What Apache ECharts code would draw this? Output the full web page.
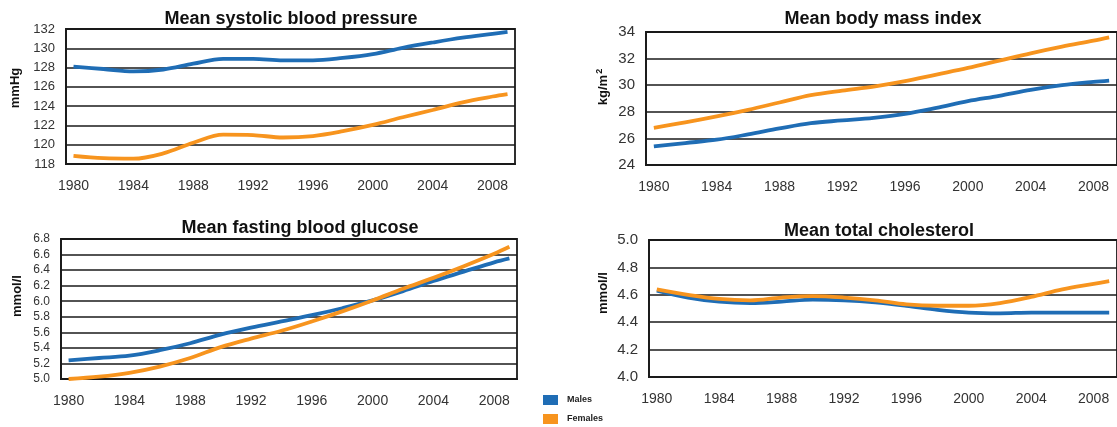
<!DOCTYPE html>
<html>
<head>
<meta charset="utf-8">
<script src="https://cdn.jsdelivr.net/npm/echarts@6/dist/echarts.min.js"></script>
<style>
  html, body { margin: 0; padding: 0; background: #fff; }
  #chart { width: 1117px; height: 427px; }
</style>
</head>
<body>
<div id="chart"></div>
<script>
// Sample years shared by every panel
const years = [1980, 1982, 1984, 1986, 1988, 1990, 1992, 1994, 1996, 1998, 2000, 2002, 2004, 2006, 2008, 2009];
const yearTicks = [1980, 1984, 1988, 1992, 1996, 2000, 2004, 2008];

// Mean systolic blood pressure (mmHg)
const sbpMales   = [128.1, 127.85, 127.6, 127.8, 128.4, 128.9, 128.9, 128.75, 128.75, 129.0, 129.4, 130.05, 130.6, 131.1, 131.5, 131.7];
const sbpFemales = [118.85, 118.6, 118.55, 119.1, 120.2, 121.05, 121.0, 120.75, 120.9, 121.4, 122.05, 122.85, 123.6, 124.4, 125.0, 125.25];

// Mean body mass index (kg/m2)
const bmiMales   = [25.4, 25.65, 25.9, 26.3, 26.75, 27.15, 27.35, 27.55, 27.85, 28.3, 28.8, 29.2, 29.65, 30.0, 30.25, 30.35];
const bmiFemales = [26.8, 27.2, 27.65, 28.15, 28.7, 29.25, 29.6, 29.9, 30.3, 30.8, 31.3, 31.85, 32.4, 32.9, 33.35, 33.6];

// Mean fasting blood glucose (mmol/l)
const fbgMales   = [5.24, 5.27, 5.30, 5.37, 5.46, 5.57, 5.66, 5.74, 5.82, 5.91, 6.01, 6.13, 6.26, 6.38, 6.50, 6.55];
const fbgFemales = [5.00, 5.03, 5.08, 5.16, 5.27, 5.41, 5.52, 5.62, 5.74, 5.87, 6.01, 6.16, 6.30, 6.45, 6.61, 6.70];

// Mean total cholesterol (mmol/l)
const cholMales   = [4.63, 4.58, 4.55, 4.54, 4.55, 4.565, 4.56, 4.545, 4.52, 4.49, 4.47, 4.465, 4.47, 4.47, 4.47, 4.47];
const cholFemales = [4.64, 4.60, 4.57, 4.56, 4.58, 4.59, 4.58, 4.56, 4.53, 4.52, 4.52, 4.54, 4.585, 4.64, 4.68, 4.70];

const titles = ['Mean systolic blood pressure', 'Mean body mass index', 'Mean fasting blood glucose', 'Mean total cholesterol'];
const seriesNames = ['Males', 'Females'];

const BLUE = '#1f6db5';
const ORANGE = '#f7941e';
const INK = '#1a1a1a';
const FONT = '"Liberation Sans", Arial, Helvetica, sans-serif';

const panels = [
  { grid: { left: 66, top: 29, width: 449, height: 135 }, y: { min: 118, max: 132, interval: 2, size: 13, dec: 0 },
    data: [sbpMales, sbpFemales], title: { x: 291, y: 10 } },
  { grid: { left: 646, top: 32, width: 473, height: 133 }, y: { min: 24, max: 34, interval: 2, size: 15, dec: 0 },
    data: [bmiMales, bmiFemales], title: { x: 883, y: 10 } },
  { grid: { left: 61, top: 239, width: 456, height: 140 }, y: { min: 5.0, max: 6.8, interval: 0.2, size: 12, dec: 1 },
    data: [fbgMales, fbgFemales], title: { x: 300, y: 219 } },
  { grid: { left: 649, top: 240, width: 473, height: 137 }, y: { min: 4.0, max: 5.0, interval: 0.2, size: 15, dec: 1 },
    data: [cholMales, cholFemales], title: { x: 879, y: 222 } }
];

const pairs = arr => years.map((yr, i) => [yr, arr[i]]);

const option = {
  animation: false,
  backgroundColor: '#fff',
  textStyle: { fontFamily: FONT },
  title: panels.map((p, i) => ({
    text: titles[i],
    left: p.title.x,
    top: p.title.y,
    textAlign: 'center',
    padding: 0,
    textStyle: { fontFamily: FONT, fontSize: 18, fontWeight: 'bold', color: '#111' }
  })),
  legend: {
    data: seriesNames,
    orient: 'vertical',
    left: 543,
    top: 395,
    icon: 'rect',
    itemWidth: 15,
    itemHeight: 10,
    itemGap: 9,
    padding: 0,
    textStyle: { fontFamily: FONT, fontSize: 9, fontWeight: 'bold', color: '#222', padding: [0, 0, 0, 4] }
  },
  grid: panels.map(p => Object.assign({
    show: true, borderColor: INK, borderWidth: 1.8, backgroundColor: 'transparent', containLabel: false
  }, p.grid)),
  xAxis: panels.map((p, i) => ({
    type: 'value',
    gridIndex: i,
    min: 1979.5,
    max: 2009.5,
    axisLine: { show: true, lineStyle: { color: INK, width: 1.8 } },
    axisTick: { show: false },
    splitLine: { show: false },
    axisLabel: {
      customValues: yearTicks,
      formatter: v => String(v),
      fontSize: 14,
      color: '#333',
      margin: 15
    }
  })),
  yAxis: panels.map((p, i) => ({
    type: 'value',
    gridIndex: i,
    min: p.y.min,
    max: p.y.max,
    interval: p.y.interval,
    axisLine: { show: true, lineStyle: { color: INK, width: 1.8 } },
    axisTick: { show: false },
    splitLine: { show: true, lineStyle: { color: INK, width: 1.6 } },
    axisLabel: {
      formatter: v => v.toFixed(p.y.dec),
      fontSize: p.y.size,
      color: '#333',
      margin: 11
    }
  })),
  series: panels.flatMap((p, i) => p.data.map((arr, k) => ({
    type: 'line',
    name: seriesNames[k],
    xAxisIndex: i,
    yAxisIndex: i,
    data: pairs(arr),
    smooth: 0.35,
    showSymbol: false,
    lineStyle: { width: 3.8, color: k === 0 ? BLUE : ORANGE },
    itemStyle: { color: k === 0 ? BLUE : ORANGE },
    z: k === 0 ? 3 : 4
  }))),
  graphic: [
    { x: 15, y: 88, text: 'mmHg' },
    { x: 603, y: 87, text: 'kg/m{sup|2}' },
    { x: 17, y: 296, text: 'mmol/l' },
    { x: 603, y: 293, text: 'mmol/l' }
  ].map(a => ({
    type: 'text',
    x: a.x,
    y: a.y,
    rotation: Math.PI / 2,
    style: {
      text: a.text,
      font: 'bold 13px ' + FONT,
      fill: '#111',
      align: 'center',
      verticalAlign: 'middle',
      rich: { sup: { fontSize: 9, fontWeight: 'bold', verticalAlign: 'top', padding: [0, 0, 6, 1] } }
    }
  }))
};

const chart = echarts.init(document.getElementById('chart'), null, { renderer: 'canvas' });
chart.setOption(option);
</script>
</body>
</html>
